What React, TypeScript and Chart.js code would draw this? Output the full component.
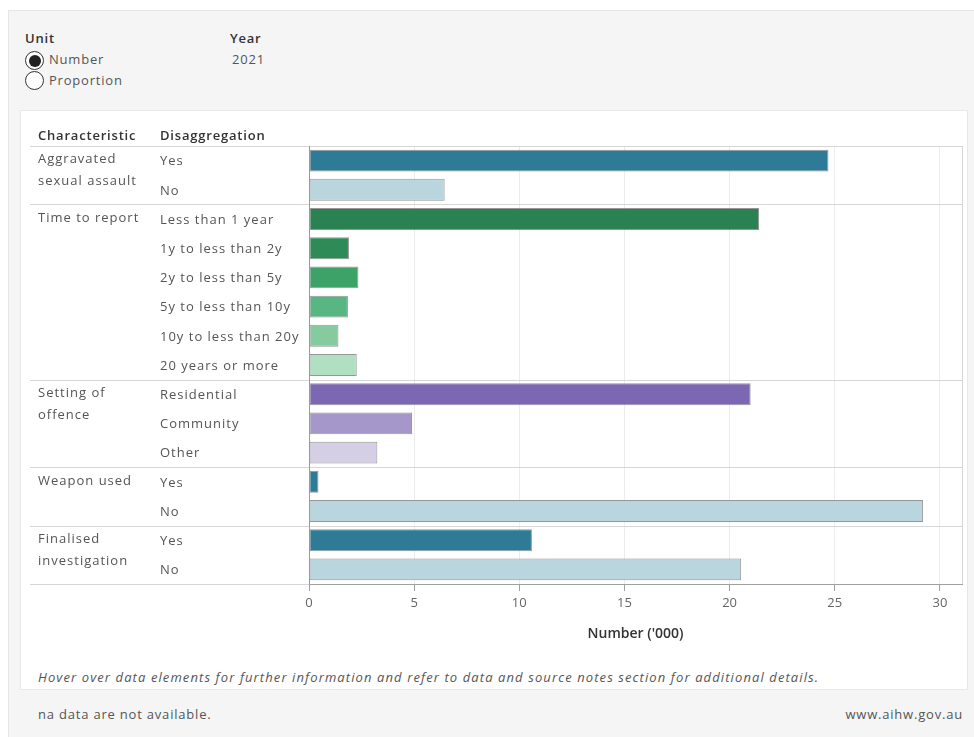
import React, { useEffect, useRef } from "react";
import { Chart, registerables } from "chart.js";

Chart.register(...registerables);

// ---- Data ----
const characteristicLines: string[][] = [
  ["Aggravated", "sexual assault"],
  ["Time to report"],
  ["Setting of", "offence"],
  ["Weapon used"],
  ["Finalised", "investigation"],
];
const groupSizes = [2, 6, 3, 2, 2];
const disaggregations = [
  "Yes",
  "No",
  "Less than 1 year",
  "1y to less than 2y",
  "2y to less than 5y",
  "5y to less than 10y",
  "10y to less than 20y",
  "20 years or more",
  "Residential",
  "Community",
  "Other",
  "Yes",
  "No",
  "Yes",
  "No",
];
const values = [24.7, 6.45, 21.4, 1.9, 2.35, 1.85, 1.4, 2.27, 21.0, 4.9, 3.25, 0.45, 29.2, 10.6, 20.55];
const barColors = [
  "#2d7b97",
  "#b9d6df",
  "#2a8253",
  "#2e8b57",
  "#3ca267",
  "#58b683",
  "#86cb9f",
  "#b0dfc1",
  "#7b67b2",
  "#a597c9",
  "#d4cfe5",
  "#2d7b97",
  "#b9d6df",
  "#2d7b97",
  "#b9d6df",
];
const xTicks = [0, 5, 10, 15, 20, 25, 30];
const xMax = 31.05;
const axisTitle = "Number ('000)";

const FONT = "'Open Sans', Lato, sans-serif";

export default function App() {
  const ref = useRef<HTMLCanvasElement>(null);

  useEffect(() => {
    document.body.style.margin = "0";
    const canvas = ref.current;
    if (!canvas) return;

    const tablePlugin = {
      id: "tableLayout",
      beforeDatasetsDraw(chart: any) {
        const { ctx, chartArea: ca, scales } = chart;
        const y = scales.y;
        const c0 = y.getPixelForValue(0);
        const c1 = y.getPixelForValue(1);
        const rowH = c1 - c0;
        const bounds: number[] = [ca.top];
        let k = 0;
        groupSizes.forEach((n) => {
          k += n;
          bounds.push(k >= values.length ? ca.bottom : y.getPixelForValue(k) - rowH / 2);
        });
        ctx.save();
        ctx.lineWidth = 1;
        ctx.strokeStyle = "#d6d6d6";
        bounds.forEach((b, i) => {
          const yy = Math.round(b) + 0.5;
          ctx.beginPath();
          ctx.moveTo(10, yy);
          ctx.lineTo(i === bounds.length - 1 ? ca.left : ca.right, yy);
          ctx.stroke();
        });
        ctx.beginPath();
        ctx.moveTo(Math.round(ca.right) + 0.5, ca.top);
        ctx.lineTo(Math.round(ca.right) + 0.5, ca.bottom);
        ctx.stroke();
        ctx.restore();
      },
      afterDatasetsDraw(chart: any) {
        const { ctx, chartArea: ca } = chart;
        ctx.save();
        ctx.strokeStyle = "#9a9a9a";
        ctx.lineWidth = 1;
        ctx.beginPath();
        ctx.moveTo(Math.round(ca.left) + 0.5, ca.top);
        ctx.lineTo(Math.round(ca.left) + 0.5, ca.bottom);
        ctx.stroke();
        ctx.restore();
      },
      afterDraw(chart: any) {
        const { ctx, chartArea: ca, scales } = chart;
        const y = scales.y;
        ctx.save();
        ctx.textBaseline = "middle";
        ctx.textAlign = "left";
        ctx.fillStyle = "#333";
        ctx.font = `600 13px ${FONT}`;
        (ctx as any).letterSpacing = "0.8px";
        ctx.fillText("Characteristic", 18, ca.top - 10);
        ctx.fillText("Disaggregation", 140, ca.top - 10);

        ctx.font = `13px ${FONT}`;
        (ctx as any).letterSpacing = "1px";
        ctx.fillStyle = "#555";
        disaggregations.forEach((d, i) => {
          ctx.fillText(d, 140, y.getPixelForValue(i) + 1);
        });
        let k = 0;
        characteristicLines.forEach((lines, g) => {
          const top = y.getPixelForValue(k);
          lines.forEach((ln, j) => {
            ctx.fillText(ln, 18, top + j * 22 - 1);
          });
          k += groupSizes[g];
        });
        ctx.restore();
      },
    };

    const chart = new Chart(canvas, {
      type: "bar",
      data: {
        labels: disaggregations,
        datasets: [
          {
            data: values,
            backgroundColor: barColors,
            borderColor: "rgba(115,115,115,0.75)",
            borderWidth: 1,
            borderSkipped: false,
            categoryPercentage: 1,
            barPercentage: 0.75,
          },
        ],
      },
      options: {
        indexAxis: "y",
        responsive: false,
        maintainAspectRatio: false,
        animation: false,
        layout: { padding: { left: 289, right: 6, top: 36, bottom: 0 } },
        plugins: {
          legend: { display: false },
          tooltip: { enabled: false },
        },
        scales: {
          y: { display: false },
          x: {
            type: "linear",
            min: 0,
            max: xMax,
            afterBuildTicks: (s: any) => {
              s.ticks = xTicks.map((v) => ({ value: v }));
            },
            afterFit: (s: any) => {
              s.height = 76;
            },
            grid: {
              color: "#ececec",
              tickColor: "#a0a0a0",
              tickLength: 7,
              drawOnChartArea: true,
            },
            border: { color: "#a0a0a0", width: 1 },
            ticks: {
              color: "#666",
              font: { family: FONT, size: 13 },
              padding: 4,
              maxRotation: 0,
            },
            title: {
              display: true,
              text: axisTitle,
              color: "#333",
              font: { family: FONT, size: 14, weight: "600" },
              padding: { top: 0, bottom: 18 },
            },
          },
        },
      },
      plugins: [tablePlugin],
    } as any);

    return () => chart.destroy();
  }, []);

  const txt = (extra: React.CSSProperties): React.CSSProperties => ({
    position: "absolute",
    lineHeight: "16px",
    whiteSpace: "nowrap",
    fontFamily: FONT,
    fontSize: 13,
    letterSpacing: "0.8px",
    ...extra,
  });

  const radio = (cx: number, cy: number, checked: boolean) => (
    <div
      style={{
        position: "absolute",
        left: cx - 9,
        top: cy - 9,
        width: 17,
        height: 17,
        borderRadius: "50%",
        border: "1.5px solid #333",
        background: "#fff",
      }}
    >
      {checked && (
        <div
          style={{
            position: "absolute",
            left: 2.5,
            top: 2.5,
            width: 12,
            height: 12,
            borderRadius: "50%",
            background: "#222",
          }}
        />
      )}
    </div>
  );

  return (
    <div
      style={{
        position: "absolute",
        left: 0,
        top: 0,
        width: 974,
        height: 737,
        background: "#fff",
        overflow: "hidden",
        fontFamily: FONT,
      }}
    >
      <div
        style={{
          position: "absolute",
          left: 8,
          top: 10,
          width: 970,
          height: 730,
          background: "#f5f5f5",
          border: "1px solid #e6e6e6",
        }}
      />
      <div style={txt({ left: 25, top: 30, color: "#333", fontWeight: 600 })}>Unit</div>
      {radio(34, 60, true)}
      <div style={txt({ left: 49, top: 51, color: "#555" })}>Number</div>
      {radio(34, 80, false)}
      <div style={txt({ left: 49, top: 72, color: "#555" })}>Proportion</div>
      <div style={txt({ left: 230, top: 30, color: "#333", fontWeight: 600 })}>Year</div>
      <div style={txt({ left: 232, top: 51, color: "#555" })}>2021</div>

      <div
        style={{
          position: "absolute",
          left: 20,
          top: 110,
          width: 948,
          height: 580,
          background: "#fff",
          border: "1px solid #e8e8e8",
          boxSizing: "border-box",
        }}
      >
        <canvas
          ref={ref}
          width={948}
          height={550}
          style={{ position: "absolute", left: -1, top: -1, width: 948, height: 550 }}
        />
      </div>
      <div style={txt({ left: 38, top: 669, color: "#555", fontStyle: "italic", letterSpacing: "1.1px" })}>
        Hover over data elements for further information and refer to data and source notes section for additional details.
      </div>
      <div style={txt({ left: 38, top: 706, color: "#555" })}>na data are not available.</div>
      <div style={txt({ right: 11, top: 706, color: "#555" })}>www.aihw.gov.au</div>
    </div>
  );
}
